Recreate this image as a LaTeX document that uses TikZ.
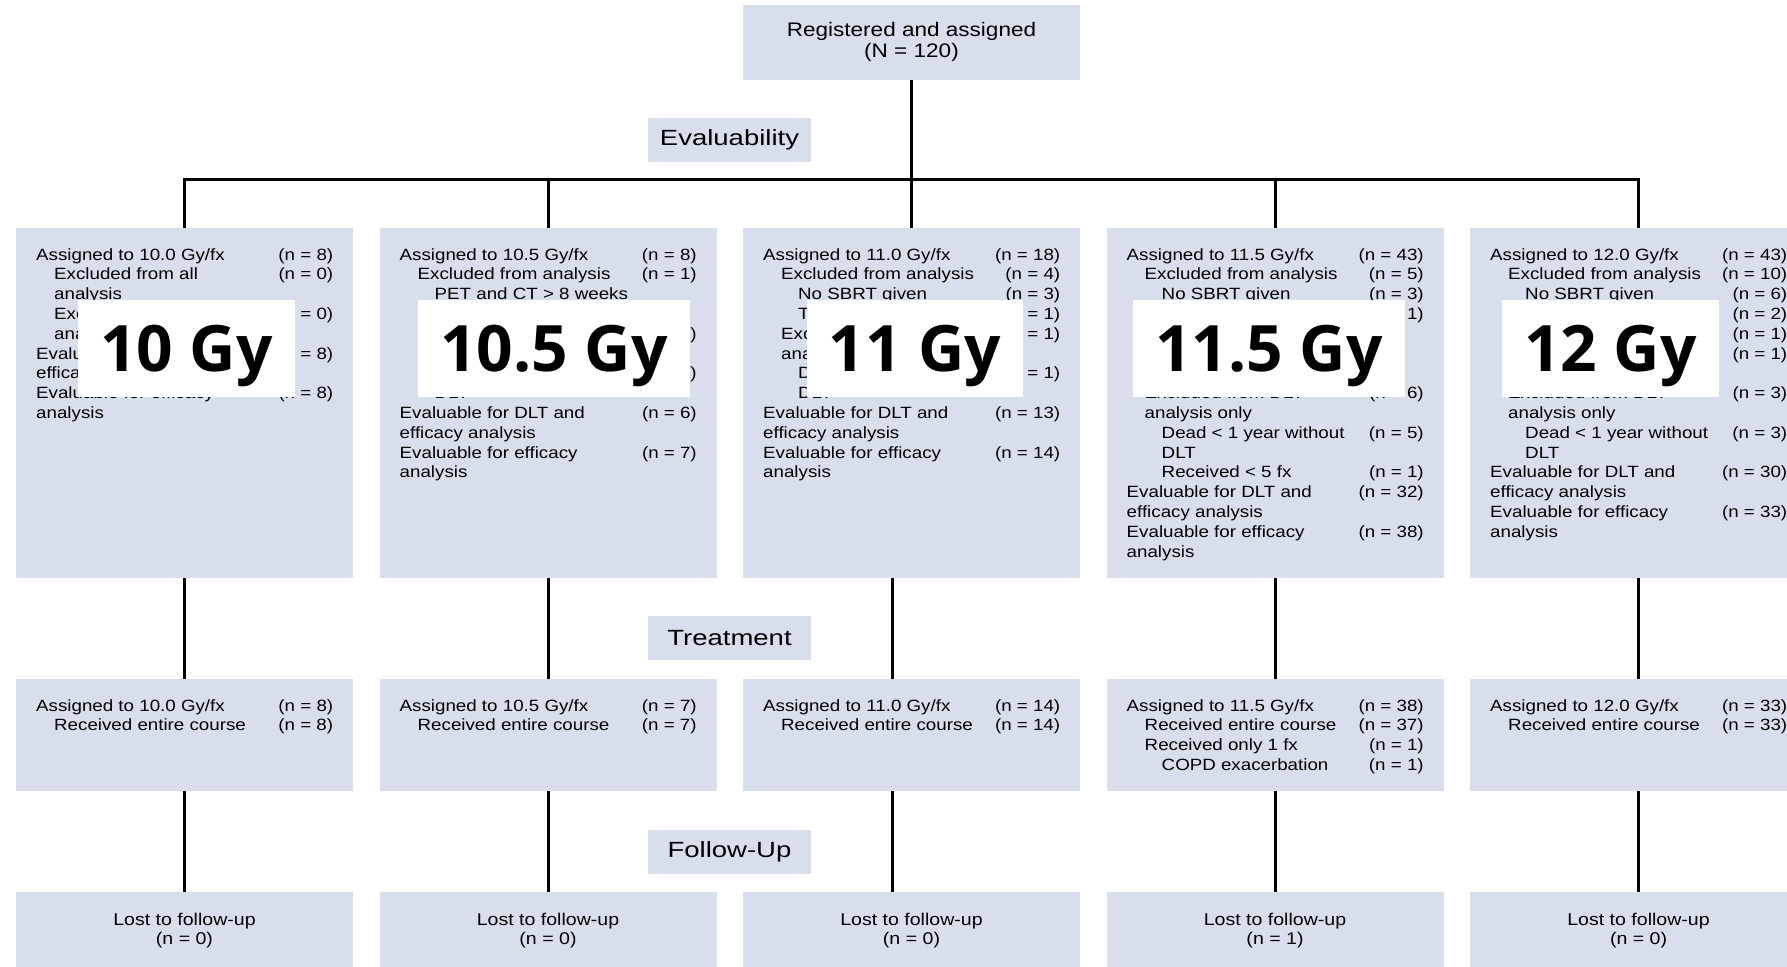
\documentclass[tikz,border=0pt]{standalone}
\usepackage{fontspec}
\setmainfont{Liberation Sans}[FakeStretch=1.15]
\newfontfamily\lblfont{Liberation Sans}[FakeStretch=1.25]
\newfontfamily\gyfont{Open Sans}
\definecolor{boxc}{RGB}{217,222,236}
\newcommand\indA{\hspace*{18pt}}
\newcommand\indB{\hspace*{35pt}}
\newcommand\cblock[1]{\begin{tabular*}{297pt}[t]{@{\extracolsep{\fill}}lr@{}}#1\end{tabular*}}
\newcommand\cstack[1]{\begin{tabular}[t]{@{}c@{}}#1\end{tabular}}
\tikzset{
  box/.style={fill=boxc, inner sep=0pt, minimum width=337pt, anchor=north west},
  txt/.style={inner sep=0pt, anchor=base west, font=\fontsize{16.3}{19.8}\selectfont},
  ctxt/.style={inner sep=0pt, anchor=base},
  lbl/.style={fill=boxc, inner sep=0pt, minimum width=163pt, minimum height=44pt, font=\lblfont\fontsize{22}{26}\selectfont},
  ovl/.style={fill=white, inner sep=0pt, minimum height=97pt, text height=46pt, text depth=0pt, font=\gyfont\bfseries\fontsize{64}{68}\selectfont},
  conn/.style={draw=black, line width=3pt},
}
\begin{document}
\begin{tikzpicture}[x=1pt,y=-1pt]
\useasboundingbox (0,0) rectangle (1787,966);
% boxes
\node[box, minimum height=75pt] (top) at (743,5) {};
\foreach \i/\x in {1/16,2/379.5,3/743,4/1106.5,5/1470} {
  \node[box, minimum height=350pt] (a\i) at (\x,228) {};
  \node[box, minimum height=112pt] (b\i) at (\x,679) {};
  \node[box, minimum height=90pt] (c\i) at (\x,892) {};
}
\node[lbl] (eval) at (729.5,139.5) {Evaluability};
\node[lbl] (treat) at (729.5,638) {Treatment};
\node[lbl] (fup) at (729.5,851.5) {Follow-Up};
% connectors
\coordinate (barL) at (184.5,179);
\draw[conn] (a1.north) -- (a1.north |- barL) -- (a5.north |- barL) -- (a5.north);
\draw[conn] (top.south) -- (top.south |- barL);
\foreach \i in {2,3,4} \draw[conn] (a\i.north) -- (a\i.north |- barL);
\foreach \i in {1,2,4,5} {
  \draw[conn] (a\i.south) -- (b\i.north);
  \draw[conn] (b\i.south) -- (c\i.north);
}
\draw[conn] ([xshift=-19.5pt]a3.south) -- ([xshift=-19.5pt]b3.north);
\draw[conn] ([xshift=-19.5pt]b3.south) -- ([xshift=-19.5pt]c3.north);
% top text
\node[ctxt, font=\fontsize{19.6}{20}\selectfont] (toptxt) at (911.5,37) {\cstack{Registered and assigned\\(N = 120)}};
% row 1 texts
\node[txt] (ta1) at (36,260) {\cblock{Assigned to 10.0 Gy/fx & (n = 8)\\
\indA Excluded from all & (n = 0)\\
\indA analysis & \\
\indA Excluded from DLT & (n = 0)\\
\indA analysis only & \\
Evaluable for DLT and & (n = 8)\\
efficacy analysis & \\
Evaluable for efficacy & (n = 8)\\
analysis & }};
\node[txt] (ta2) at (399.5,260) {\cblock{Assigned to 10.5 Gy/fx & (n = 8)\\
\indA Excluded from analysis & (n = 1)\\
\indB PET and CT > 8 weeks & \\
 & \\
 & (n = 1)\\
 & \\
 & (n = 1)\\
\indB DLT & \\
Evaluable for DLT and & (n = 6)\\
efficacy analysis & \\
Evaluable for efficacy & (n = 7)\\
analysis & }};
\node[txt] (ta3) at (763,260) {\cblock{Assigned to 11.0 Gy/fx & (n = 18)\\
\indA Excluded from analysis & (n = 4)\\
\indB No SBRT given & (n = 3)\\
\indB T & (n = 1)\\
\indA Excluded from DLT & (n = 1)\\
\indA analysis only & \\
\indB Dead < 1 year without & (n = 1)\\
\indB DLT & \\
Evaluable for DLT and & (n = 13)\\
efficacy analysis & \\
Evaluable for efficacy & (n = 14)\\
analysis & }};
\node[txt] (ta4) at (1126.5,260) {\cblock{Assigned to 11.5 Gy/fx & (n = 43)\\
\indA Excluded from analysis & (n = 5)\\
\indB No SBRT given & (n = 3)\\
 & (n = 1)\\
 & \\
 & \\
 & \\
\indA Excluded from DLT & (n = 6)\\
\indA analysis only & \\
\indB Dead < 1 year without & (n = 5)\\
\indB DLT & \\
\indB Received < 5 fx & (n = 1)\\
Evaluable for DLT and & (n = 32)\\
efficacy analysis & \\
Evaluable for efficacy & (n = 38)\\
analysis & }};
\node[txt] (ta5) at (1490,260) {\cblock{Assigned to 12.0 Gy/fx & (n = 43)\\
\indA Excluded from analysis & (n = 10)\\
\indB No SBRT given & (n = 6)\\
 & (n = 2)\\
 & (n = 1)\\
 & (n = 1)\\
 & \\
\indA Excluded from DLT & (n = 3)\\
\indA analysis only & \\
\indB Dead < 1 year without & (n = 3)\\
\indB DLT & \\
Evaluable for DLT and & (n = 30)\\
efficacy analysis & \\
Evaluable for efficacy & (n = 33)\\
analysis & }};
% row 2 texts
\node[txt] (tb1) at (36,711) {\cblock{Assigned to 10.0 Gy/fx & (n = 8)\\
\indA Received entire course & (n = 8)}};
\node[txt] (tb2) at (399.5,711) {\cblock{Assigned to 10.5 Gy/fx & (n = 7)\\
\indA Received entire course & (n = 7)}};
\node[txt] (tb3) at (763,711) {\cblock{Assigned to 11.0 Gy/fx & (n = 14)\\
\indA Received entire course & (n = 14)}};
\node[txt] (tb4) at (1126.5,711) {\cblock{Assigned to 11.5 Gy/fx & (n = 38)\\
\indA Received entire course & (n = 37)\\
\indA Received only 1 fx & (n = 1)\\
\indB COPD exacerbation & (n = 1)}};
\node[txt] (tb5) at (1490,711) {\cblock{Assigned to 12.0 Gy/fx & (n = 33)\\
\indA Received entire course & (n = 33)}};
% row 3 texts
\foreach \i/\x/\n in {1/184.5/0,2/548/0,3/911.5/0,4/1275/1,5/1638.5/0} {
  \node[ctxt, font=\fontsize{17}{19}\selectfont] (tc\i) at (\x,925) {\cstack{Lost to follow-up\\(n = \n)}};
}
% overlays
\node[ovl, minimum width=217pt] (o1) at (186.5,348.5) {10 Gy};
\node[ovl, minimum width=272pt] (o2) at (554,348.5) {10.5 Gy};
\node[ovl, minimum width=216pt] (o3) at (915,348.5) {11 Gy};
\node[ovl, minimum width=272pt] (o4) at (1269,348.5) {11.5 Gy};
\node[ovl, minimum width=217pt] (o5) at (1610.5,348.5) {12 Gy};
\end{tikzpicture}
\end{document}
